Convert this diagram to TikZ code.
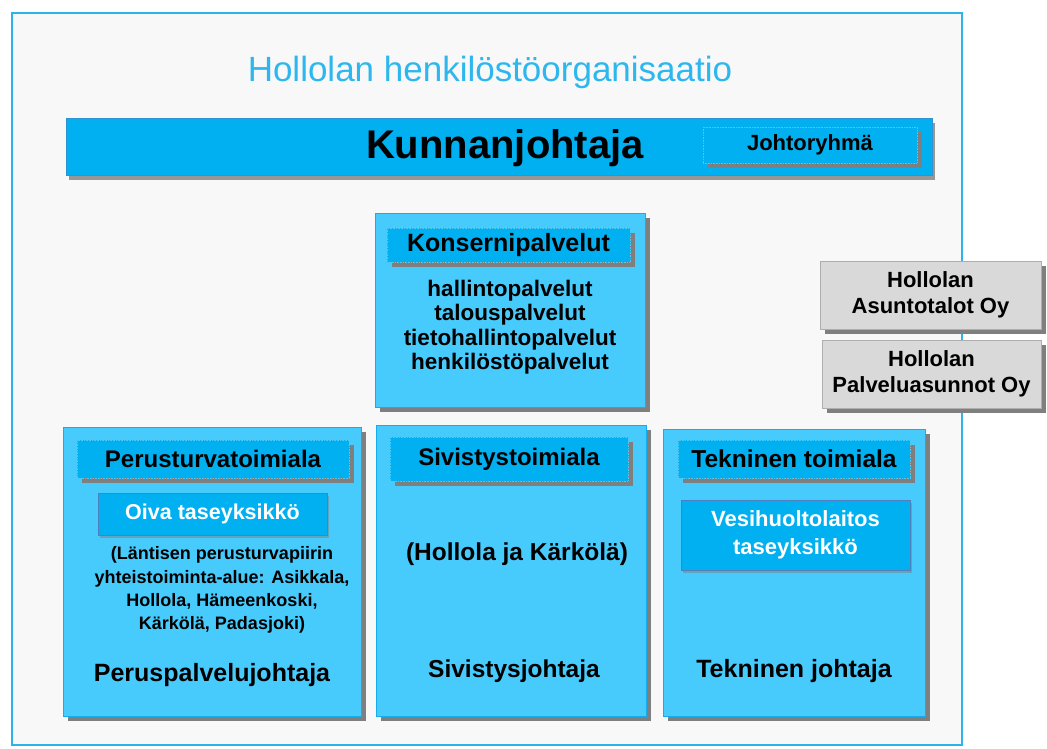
\documentclass[tikz,border=0pt]{standalone}
\usepackage{fontspec}
\setmainfont{Liberation Sans}
\usetikzlibrary{shadows}
\definecolor{framec}{HTML}{2BB4EC}
\definecolor{bgin}{HTML}{F8F8F8}
\definecolor{mainc}{HTML}{47CAFC}
\definecolor{headc}{HTML}{00B0F0}
\definecolor{mainbd}{HTML}{12AEEE}
\definecolor{subbd}{HTML}{4F7FBE}
\definecolor{shad}{HTML}{7F7F7F}
\definecolor{grayc}{HTML}{D9D9D9}
\definecolor{titlec}{HTML}{2DB7EE}
\tikzset{
  sh/.style={drop shadow={shadow xshift=5pt, shadow yshift=-5pt, fill=shad, opacity=1}},
  mainbox/.style={draw=mainbd, line width=1pt, fill=mainc, sh, inner sep=0pt, outer sep=0pt},
  headbox/.style={draw=headc!70!white, densely dotted, line width=0.6pt, fill=headc, sh, inner sep=0pt, outer sep=0pt, font=\bfseries\fontsize{24}{28}\selectfont},
  subbox/.style={draw=subbd, line width=1pt, fill=headc, inner sep=0pt, outer sep=0pt, text=white, align=center,
    drop shadow={shadow xshift=2pt, shadow yshift=-3pt, fill=shad, opacity=0.5}},
  graybox/.style={draw=grayc!80!black, line width=0.5pt, fill=grayc, sh, inner sep=0pt, outer sep=0pt, align=center,
    font=\bfseries\fontsize{22}{26}\selectfont},
  txt/.style={inner sep=0pt, align=center},
}
\begin{document}
\begin{tikzpicture}[x=1pt,y=-1pt]
\useasboundingbox (0,0) rectangle (1047,749);
\fill[white] (0,0) rectangle (1047,749);
\node[draw=framec, line width=1.5pt, fill=bgin, minimum width=950, minimum height=732, inner sep=0pt] (frame) at (487,379) {};
\node[txt, text=titlec, font=\fontsize{35}{40}\selectfont] (title) at (490,72) {Hollolan henkilöstöorganisaatio};
% Kunnanjohtaja bar
\node[draw=subbd!60!headc, line width=0.8pt, fill=headc, minimum width=866, minimum height=57, inner sep=0pt,
  drop shadow={shadow xshift=3pt, shadow yshift=-5pt, fill=shad, opacity=0.8}] (kj) at (499,146.5) {};
\node[txt, font=\bfseries\fontsize{40}{44}\selectfont] (kjt) at (505,148) {Kunnanjohtaja};
\node[headbox, minimum width=214, minimum height=36, font=\bfseries\fontsize{22}{26}\selectfont] (jr) at (810,145) {Johtoryhmä};
% Konsernipalvelut
\node[mainbox, minimum width=270, minimum height=194] (kp) at (510,310) {};
\node[headbox, minimum width=243, minimum height=34, font=\bfseries\fontsize{25}{28}\selectfont] (kph) at (508.5,245) {Konsernipalvelut};
\node[txt, font=\bfseries\fontsize{22.5}{24.5}\selectfont] (kpt) at (510,327) {hallintopalvelut\\talouspalvelut\\tietohallintopalvelut\\henkilöstöpalvelut};
% gray boxes
\node[graybox, minimum width=221, minimum height=68] (asu) at (930.5,295) {Hollolan\\Asuntotalot Oy};
\node[graybox, minimum width=219, minimum height=68] (pal) at (931.5,374) {Hollolan\\Palveluasunnot Oy};
% Perusturva
\node[mainbox, minimum width=298, minimum height=289] (pt) at (212,571.5) {};
\node[headbox, minimum width=272, minimum height=38] (pth) at (213,459) {Perusturvatoimiala};
\node[subbox, minimum width=229, minimum height=42, font=\bfseries\fontsize{21.5}{24}\selectfont] (oiva) at (212.5,514) {Oiva taseyksikkö};
\node[txt, font=\bfseries\fontsize{18}{23.3}\selectfont] (ptt) at (222,590) {(Läntisen perusturvapiirin\\yhteistoiminta-alue: Asikkala,\\Hollola, Hämeenkoski,\\Kärkölä, Padasjoki)};
\node[txt, font=\bfseries\fontsize{25}{28}\selectfont] (ptj) at (212,675) {Peruspalvelujohtaja};
% Sivistys
\node[mainbox, minimum width=270, minimum height=291] (sv) at (511,570.5) {};
\node[headbox, minimum width=238, minimum height=44] (svh) at (509,459) {Sivistystoimiala};
\node[txt, font=\bfseries\fontsize{24.5}{28}\selectfont] (svt) at (517,554) {(Hollola ja Kärkölä)};
\node[txt, font=\bfseries\fontsize{24.5}{28}\selectfont] (svj) at (514,671) {Sivistysjohtaja};
% Tekninen
\node[mainbox, minimum width=262, minimum height=287] (tk) at (794,572.5) {};
\node[headbox, minimum width=232, minimum height=38, font=\bfseries\fontsize{24.5}{28}\selectfont] (tkh) at (794,459) {Tekninen toimiala};
\node[subbox, minimum width=229, minimum height=70, font=\bfseries\fontsize{22}{28}\selectfont] (vesi) at (795.5,535) {Vesihuoltolaitos\\taseyksikkö};
\node[txt, font=\bfseries\fontsize{25}{28}\selectfont] (tkj) at (794,671) {Tekninen johtaja};
\end{tikzpicture}
\end{document}
